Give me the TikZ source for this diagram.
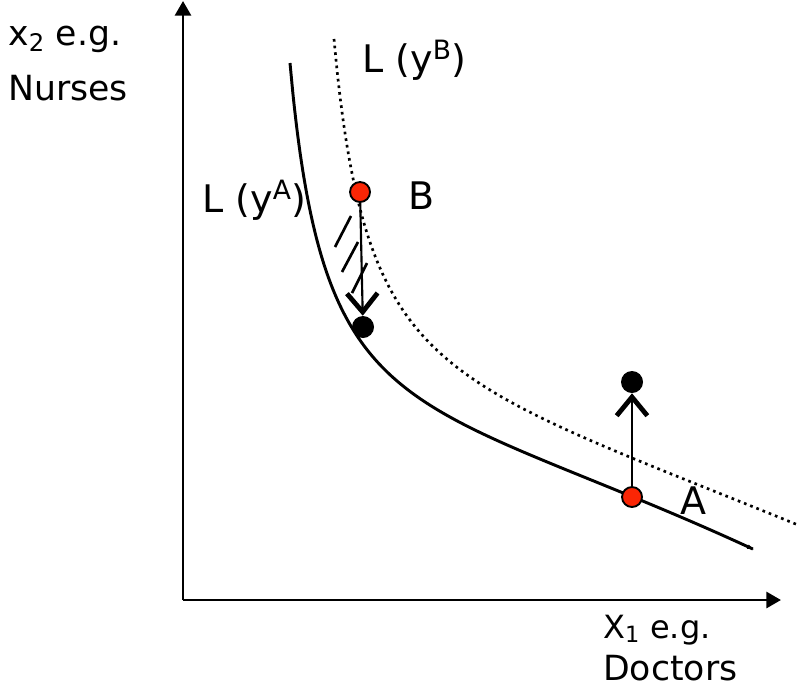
\documentclass[tikz,border=0pt]{standalone}
\usepackage{fontspec}
\setmainfont{DejaVu Sans}
\usetikzlibrary{arrows.meta}
\definecolor{ptred}{RGB}{250,38,5}
\begin{document}
\begin{tikzpicture}[x=0.75pt,y=-0.75pt,
  axisline/.style={line width=2.2pt,-{Triangle[length=11pt,width=12pt]}},
  curveA/.style={line width=2.2pt},
  curveB/.style={line width=2pt,dash pattern=on 2pt off 3pt},
  reddot/.style={circle,draw,line width=1.4pt,fill=ptred,minimum size=15pt,inner sep=0pt},
  blackdot/.style={circle,fill=black,minimum size=16.5pt,inner sep=0pt},
  movearrow/.style={line width=1.6pt,-{Straight Barb[length=14pt,width=23pt,line width=3.6pt]}},
  hatchline/.style={line width=2pt},
  axlabel/.style={anchor=base west,inner sep=0pt,font=\fontsize{26}{31}\selectfont},
  axlabelsmall/.style={anchor=base west,inner sep=0pt,font=\fontsize{24}{29}\selectfont},
  curvelabel/.style={anchor=base west,inner sep=0pt,font=\fontsize{28.5}{34}\selectfont}
]
\useasboundingbox (0,0) rectangle (798,693);

% axes
\coordinate (O) at (183,600);
\coordinate (ytip) at (183,1);
\coordinate (xtip) at (781,600);
\draw[axisline] (O) -- (ytip);
\draw[axisline] (O) -- (xtip);

% axis labels
\node[axlabel] (ylab1) at (8,45) {x\textsubscript{2} e.g.};
\node[axlabel] (ylab2) at (8,100) {Nurses};
\node[axlabelsmall] (xlab1) at (603,638) {X\textsubscript{1} e.g.};
\node[axlabel] (xlab2) at (603,680) {Doctors};

% isoquant A (solid)
\draw[curveA,-{Latex[length=6pt,width=3.5pt]}]
  plot[domain=107:572,samples=140,smooth,variable=\t]
  ({\t+183},{600-(15454/(\t-70)+117.7+0.05815*\t-4.027*(\t/100)^2)});

% isoquant B (dotted)
\draw[curveB]
  plot[domain=151:615,samples=140,smooth,variable=\t]
  ({\t+183},{600-(14179/(\t-115)+187.95-0.10787*\t-1.9816*(\t/100)^2)});

% curve labels
\node[curvelabel] (LB) at (362,72) {L (y\textsuperscript{B})};
\node[curvelabel] (LA) at (202,212) {L (y\textsuperscript{A})};

% hatching
\draw[hatchline] (335,247) -- (351,216);
\draw[hatchline] (342,272) -- (358,242);
\draw[hatchline] (352,293) -- (367,263);

% points
\node[reddot] (B) at (360,192) {};
\node[blackdot] (Bd) at (363,327) {};
\node[reddot] (A) at (632,497) {};
\node[blackdot] (Ad) at (632,382) {};

\node[curvelabel] (Blab) at (408,209) {B};
\node[curvelabel] (Alab) at (680,514) {A};

% movements
\draw[movearrow] (B) -- (Bd);
\draw[movearrow] (A) -- (Ad);
\end{tikzpicture}
\end{document}
